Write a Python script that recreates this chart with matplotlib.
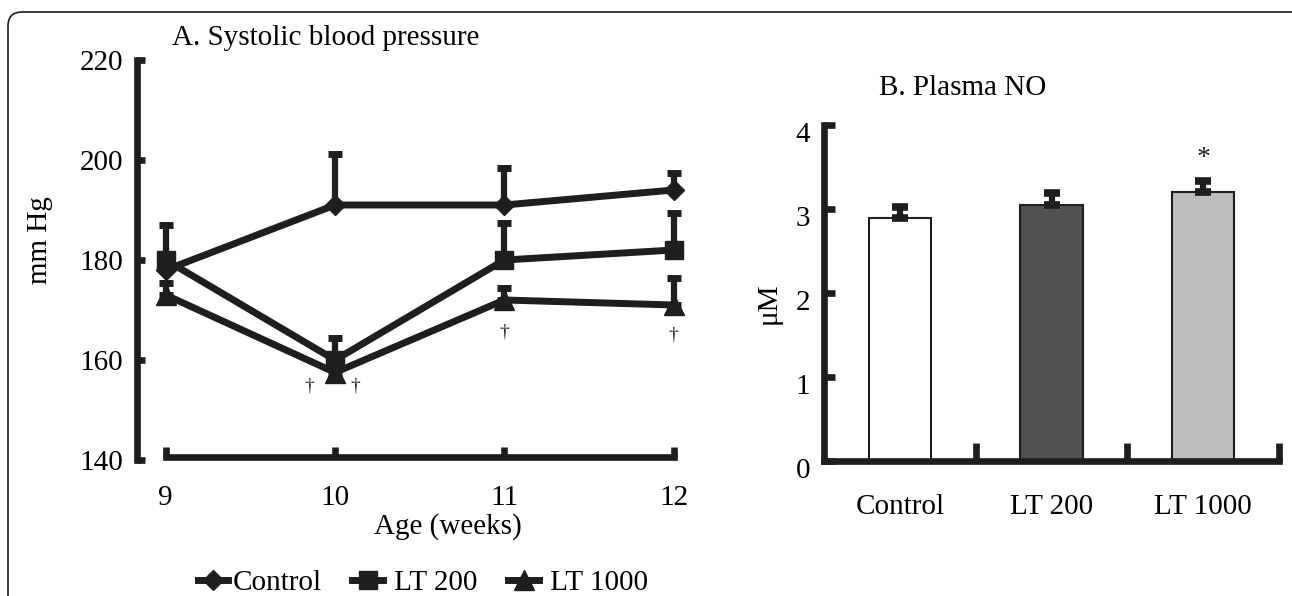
import numpy as np
import matplotlib
matplotlib.use("Agg")
import matplotlib.pyplot as plt
from matplotlib.patches import FancyBboxPatch
from matplotlib.transforms import IdentityTransform, ScaledTranslation

plt.rcParams['font.family'] = ['Liberation Serif', 'DejaVu Serif']
plt.rcParams['font.size'] = 21

INK = '#1e1e1e'

# panel A data (systolic blood pressure, mm Hg)
weeks = [9, 10, 11, 12]
control = [178, 191, 191, 194]
control_err = [3, 10.2, 7.5, 3.5]
lt200 = [180, 160, 180, 182]
lt200_err = [7, 4.5, 7.5, 7.5]
lt1000 = [173, 157.5, 172, 171]
lt1000_err = [2.5, 1.5, 2.5, 5.5]
dagger_x = [9.85, 10.12, 11, 12]
dagger_y = [154.8, 154.8, 165.6, 165.0]

# panel B data (plasma NO, uM)
groups = ['Control', 'LT 200', 'LT 1000']
no_mean = [2.89, 3.05, 3.20]
no_err = [0.13, 0.14, 0.13]
bar_colors = ['#ffffff', '#505050', '#bdbdbd']

W, H = 1292, 596
fig = plt.figure(figsize=(W / 100, H / 100), dpi=100)

def px_axes(x0, y0, x1, y1):
    return fig.add_axes([x0 / W, 1 - y1 / H, (x1 - x0) / W, (y1 - y0) / H])

# ---- panel A
ax = px_axes(137, 60, 699, 460)
series = [(control, control_err, 'D', 10.5), (lt200, lt200_err, 's', 13),
          (lt1000, lt1000_err, '^', 15)]
labels = ['Control', ' LT 200', ' LT 1000']
handles = []
for (vals, err, mk, ms), lab in zip(series, labels):
    eb = ax.errorbar(weeks, vals, yerr=[np.zeros(len(err)), err], color=INK,
                     lw=5, marker=mk, ms=ms, elinewidth=4.5, capsize=4.7,
                     capthick=5, label=lab, clip_on=False, zorder=3)
    handles.append(eb[0])
for x, y in zip(dagger_x, dagger_y):
    ax.text(x, y, '\u2020', ha='center', va='center', fontsize=14, color=INK)

ax.set_xlim(8.83, 12.15)
ax.set_ylim(140, 220)
ax.set_xticks(weeks)
ax.set_yticks([140, 160, 180, 200, 220])
for s in ['top', 'right']:
    ax.spines[s].set_visible(False)
ax.spines['left'].set_bounds(140, 220)
ax.spines['bottom'].set_bounds(9, 12)
ax.spines['bottom'].set_position(('data', 140.6))
for s in ['left', 'bottom']:
    ax.spines[s].set_linewidth(4.8)
    ax.spines[s].set_color(INK)
ax.tick_params(axis='y', direction='in', length=6, width=4.8, color=INK, pad=10)
ax.tick_params(axis='x', direction='in', length=7, width=4.8, color=INK, pad=20)
ax.patch.set_visible(False)
ax.set_xlabel('Age (weeks)', va='center')
ax.xaxis.set_label_coords(0.553, -0.167)
fig.text(40 / W, 1 - 240 / H, 'mm Hg', rotation=90, ha='center', va='center')
fig.text(172 / W, 1 - 38 / H, 'A. Systolic blood pressure', ha='left', va='center')

fig.legend(handles=handles, labels=labels, loc='center', ncol=3, frameon=False,
           bbox_to_anchor=(423 / W, 1 - 583 / H), handlelength=1.05,
           handletextpad=0.15, columnspacing=1.05)

# ---- panel B
bx = px_axes(824, 125, 1279, 461)
pos = np.arange(len(groups))
bx.bar(pos, no_mean, width=0.41, color=bar_colors, edgecolor=INK, lw=1.5, zorder=2)
bx.errorbar(pos, no_mean, yerr=[np.zeros(3), no_err], fmt='none', ecolor=INK,
            elinewidth=4.5, capsize=5.8, capthick=5.5, zorder=3)
bx.text(2, 3.6, '*', ha='center', va='center', fontsize=20, color=INK)
bx.set_xlim(-0.5, 2.5)
bx.set_ylim(0, 4)
bx.set_yticks([0, 1, 2, 3, 4])
bx.set_xticks(pos)
bx.set_xticklabels(groups)
bx.set_xticks([0.5, 1.5, 2.5], minor=True)
for s in ['top', 'right']:
    bx.spines[s].set_visible(False)
for s in ['left', 'bottom']:
    bx.spines[s].set_linewidth(4.8)
    bx.spines[s].set_color(INK)
bx.tick_params(axis='y', direction='in', length=8, width=4.8, color=INK, pad=10)
bx.tick_params(axis='x', which='major', length=0, pad=24)
bx.tick_params(axis='x', which='minor', direction='in', length=13, width=4.8, color=INK)
shift = ScaledTranslation(0, -0.07, fig.dpi_scale_trans)
for lab in bx.get_yticklabels():
    lab.set_transform(lab.get_transform() + shift)
bx.patch.set_visible(False)
fig.text(769 / W, 1 - 303 / H, '\u03bcM', rotation=90, ha='center', va='center')
fig.text(963 / W, 1 - 88 / H, 'B. Plasma NO', ha='center', va='center')

# rounded frame around the figure
frame = FancyBboxPatch((8, -60), 1400, H - 12 + 60,
                       boxstyle='round,pad=0,rounding_size=14',
                       transform=IdentityTransform(), fill=False,
                       edgecolor=INK, lw=1.2)
fig.patches.append(frame)

fig.savefig('out.png', dpi=100)
